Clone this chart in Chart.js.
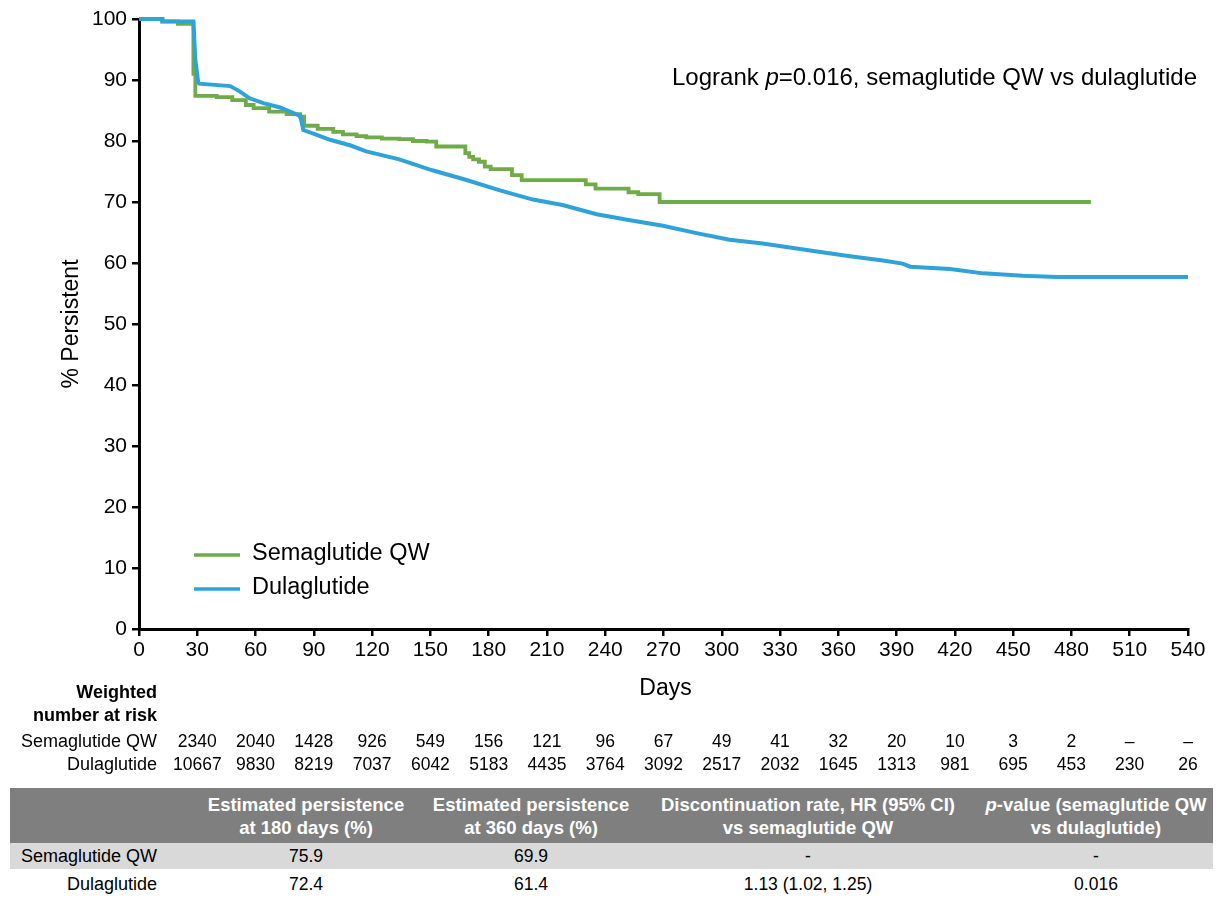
<!DOCTYPE html>
<html>
<head>
<meta charset="utf-8">
<script src="https://cdn.jsdelivr.net/npm/chart.js@4.4.1/dist/chart.umd.min.js"></script>
<style>
  html, body { margin: 0; padding: 0; background: #fff; }
  #wrap { position: relative; width: 1220px; height: 898px; overflow: hidden; font-family: "Liberation Sans", Arial, sans-serif; }
  #c { position: absolute; left: 0; top: 0; }
  .band { position: absolute; left: 10px; width: 1203px; }
  .cell { position: absolute; white-space: nowrap; transform: translate(-50%, -50%); }
  .hdr { color: #fff; font-weight: bold; font-size: 18.5px; text-align: center; line-height: 23px; }
  .val { color: #000; font-size: 17.5px; }
  .lab { position: absolute; white-space: nowrap; transform: translate(-100%, -50%); color: #000; font-size: 18px; }
</style>
</head>
<body>
<div id="wrap">
  <canvas id="c" width="1220" height="780"></canvas>
</div>
<script>
// ---------- data ----------
const semaDays = [0, 12, 20, 28, 29, 40, 48, 55, 59, 67, 76, 83, 85, 92, 100, 105, 112, 117, 125, 134, 141, 148, 153, 168, 170, 172, 175, 178, 181, 192, 197, 230, 235, 252, 257, 268, 490];
const semaPct  = [100, 99.6, 99.2, 91, 87.4, 87.2, 86.7, 85.9, 85.4, 84.8, 84.4, 84.0, 82.5, 82.0, 81.5, 81.1, 80.8, 80.6, 80.4, 80.3, 80.0, 79.9, 79.1, 78.0, 77.4, 77.0, 76.6, 75.8, 75.4, 74.4, 73.6, 72.9, 72.2, 71.6, 71.3, 70.0, 70.0];

const dulaDays = [0, 12, 12, 28, 29, 30.5, 31, 47, 52, 57, 64, 72.6, 83, 84.6, 91.5, 98.3, 108.6, 117, 134, 151, 168.6, 185.8, 202.8, 218, 235.6, 252.8, 269.7, 287, 304, 321, 331.5, 349, 366, 383, 393, 397, 417.5, 434.5, 455, 472.6, 540];
const dulaPct  = [100, 100, 99.6, 99.6, 93.3, 89.6, 89.4, 89.0, 88.1, 87.0, 86.2, 85.5, 84.1, 81.8, 81.0, 80.2, 79.3, 78.3, 77.0, 75.2, 73.6, 71.9, 70.4, 69.5, 68.0, 67.0, 66.1, 64.9, 63.8, 63.2, 62.7, 61.9, 61.1, 60.4, 59.9, 59.4, 59.0, 58.3, 57.9, 57.7, 57.7];

const riskDays = [30, 60, 90, 120, 150, 180, 210, 240, 270, 300, 330, 360, 390, 420, 450, 480, 510, 540];
const riskSema = ['2340', '2040', '1428', '926', '549', '156', '121', '96', '67', '49', '41', '32', '20', '10', '3', '2', '\u2013', '\u2013'];
const riskDula = ['10667', '9830', '8219', '7037', '6042', '5183', '4435', '3764', '3092', '2517', '2032', '1645', '1313', '981', '695', '453', '230', '26'];

const seriesNames = ['Semaglutide QW', 'Dulaglutide'];
const tableHeaders = [['Estimated persistence', 'at 180 days (%)'], ['Estimated persistence', 'at 360 days (%)'], ['Discontinuation rate, HR (95% CI)', 'vs semaglutide QW'], ['<i>p</i>-value (semaglutide QW', 'vs dulaglutide)']];
const tableSema = ['75.9', '69.9', '-', '-'];
const tableDula = ['72.4', '61.4', '1.13 (1.02, 1.25)', '0.016'];

const GREEN = '#6fab46';
const BLUE = '#2fa3d8';
const FONT = '"Liberation Sans", Arial, sans-serif';

// ---------- chart ----------
const toPts = (xs, ys) => xs.map((x, i) => ({x: x, y: ys[i]}));

const overlay = {
  id: 'overlay',
  afterDraw(chart) {
    const ctx = chart.ctx;
    const ca = chart.chartArea;
    const xs = chart.scales.x;
    ctx.save();
    ctx.fillStyle = '#000';
    // axis titles
    ctx.font = '23px ' + FONT;
    ctx.textAlign = 'center';
    ctx.textBaseline = 'middle';
    ctx.fillText('Days', (ca.left + ca.right) / 2 + 2, 689);
    ctx.save();
    ctx.translate(72, (ca.top + ca.bottom) / 2);
    ctx.rotate(-Math.PI / 2);
    ctx.fillText('% Persistent', 0, 0);
    ctx.restore();

    // legend
    const leg = [[seriesNames[0], GREEN, 555], [seriesNames[1], BLUE, 589]];
    ctx.textAlign = 'left';
    ctx.font = '23.5px ' + FONT;
    leg.forEach(([t, c, y]) => {
      ctx.strokeStyle = c; ctx.lineWidth = 3.5;
      ctx.beginPath(); ctx.moveTo(194, y); ctx.lineTo(240, y); ctx.stroke();
      ctx.fillStyle = '#000';
      ctx.fillText(t, 252, y - 1);
    });

    // annotation
    const parts = [['Logrank ', 'normal'], ['p', 'italic'], ['=0.016, semaglutide QW vs dulaglutide', 'normal']];
    let widths = parts.map(([t, s]) => { ctx.font = s + ' 24px ' + FONT; return ctx.measureText(t).width; });
    let total = widths.reduce((a, b) => a + b, 0);
    let x = 1197 - total;
    parts.forEach(([t, s], i) => { ctx.font = s + ' 24px ' + FONT; ctx.fillText(t, x, 78); x += widths[i]; });

    // risk table
    ctx.font = 'bold 18px ' + FONT;
    ctx.textAlign = 'right';
    ctx.fillText('Weighted', 157, 693);
    ctx.fillText('number at risk', 157, 716);
    ctx.font = '18px ' + FONT;
    ctx.fillText(seriesNames[0], 157, 742);
    ctx.fillText(seriesNames[1], 157, 765);
    ctx.font = '17.5px ' + FONT;
    ctx.textAlign = 'center';
    riskDays.forEach((d, i) => {
      const px = xs.getPixelForValue(d);
      ctx.fillText(riskSema[i], px, 742);
      ctx.fillText(riskDula[i], px, 765);
    });
    ctx.restore();
  }
};

new Chart(document.getElementById('c'), {
  type: 'line',
  data: {
    datasets: [
      { label: seriesNames[0], data: toPts(semaDays, semaPct), borderColor: GREEN, borderWidth: 3.8, stepped: 'before', pointRadius: 0, fill: false, clip: false, order: 2 },
      { label: seriesNames[1], data: toPts(dulaDays, dulaPct), borderColor: BLUE, borderWidth: 4, tension: 0, pointRadius: 0, fill: false, clip: false, order: 1 }
    ]
  },
  options: {
    responsive: false,
    animation: false,
    devicePixelRatio: 1,
    layout: { padding: { left: 0, right: 32, top: 19, bottom: 0 } },
    plugins: { legend: { display: false }, tooltip: { enabled: false } },
    scales: {
      x: {
        type: 'linear', min: 0, max: 540,
        ticks: { stepSize: 30, color: '#000', font: { family: FONT, size: 21 }, padding: 2, maxRotation: 0, autoSkip: false },
        grid: { display: true, drawOnChartArea: false, drawTicks: true, tickLength: 7, color: '#000', lineWidth: 2.5 },
        border: { display: true, color: '#000', width: 3 },
        afterFit(s) { s.height = 780 - 629; }
      },
      y: {
        min: 0, max: 100,
        ticks: { stepSize: 10, color: '#000', font: { family: FONT, size: 21 }, padding: 5 },
        grid: { display: true, drawOnChartArea: false, drawTicks: true, tickLength: 7, color: '#000', lineWidth: 2.5 },
        border: { display: true, color: '#000', width: 3 },
        afterFit(s) { s.width = 139; }
      }
    }
  },
  plugins: [overlay]
});

// ---------- bottom table (HTML) ----------
const wrap = document.getElementById('wrap');
function addDiv(cls, style, html) {
  const d = document.createElement('div');
  d.className = cls; d.setAttribute('style', style); d.innerHTML = html;
  wrap.appendChild(d); return d;
}
addDiv('band', 'top:788px;height:55px;background:#7f7f7f;', '');
addDiv('band', 'top:843px;height:26px;background:#d9d9d9;', '');
const colX = [306, 531, 808, 1096];
tableHeaders.forEach((h, i) => addDiv('cell hdr', `left:${colX[i]}px;top:816px;`, h[0] + '<br>' + h[1]));
addDiv('lab', 'left:157px;top:856px;', seriesNames[0]);
addDiv('lab', 'left:157px;top:884px;', seriesNames[1]);
tableSema.forEach((v, i) => addDiv('cell val', `left:${colX[i]}px;top:856px;`, v));
tableDula.forEach((v, i) => addDiv('cell val', `left:${colX[i]}px;top:884px;`, v));
</script>
</body>
</html>
